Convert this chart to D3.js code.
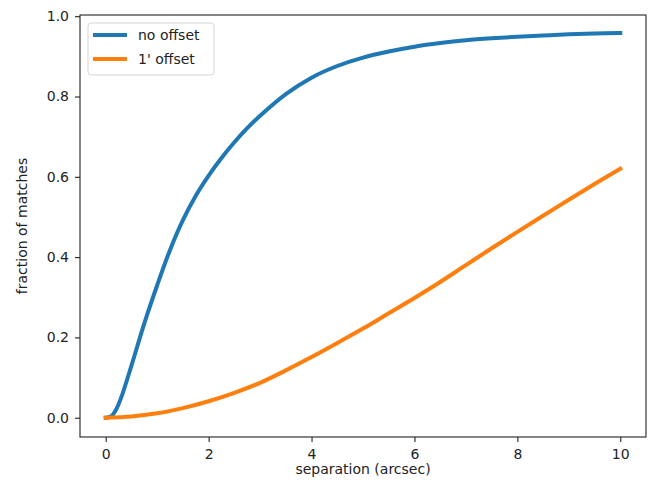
<!DOCTYPE html>
<html>
<head>
<meta charset="utf-8">
<script src="https://cdn.jsdelivr.net/npm/d3@7"></script>
<style>
  body { margin: 0; background: #fff; }
  text { font-family: "DejaVu Sans", sans-serif; fill: #222; }
</style>
</head>
<body>
<div id="chart"></div>
<script>
// separation in arcsec
var sepBlue = [0, 0.1, 0.2, 0.3, 0.5, 0.75, 1.0, 1.25, 1.5, 1.75, 2.0, 2.25, 2.5, 2.75, 3.0, 3.5, 4.0, 4.5, 5.0, 5.5, 6.0, 6.5, 7.0, 7.5, 8.0, 8.5, 9.0, 9.5, 10.0];
var noOffset = [0, 0.003, 0.02, 0.05, 0.13, 0.235, 0.33, 0.418, 0.492, 0.553, 0.603, 0.647, 0.686, 0.721, 0.752, 0.806, 0.847, 0.876, 0.897, 0.912, 0.924, 0.933, 0.940, 0.945, 0.949, 0.952, 0.955, 0.957, 0.958];

var sepOrange = [0, 0.5, 1.0, 1.5, 2.0, 2.5, 3.0, 3.5, 4.0, 4.5, 5.0, 5.5, 6.0, 6.5, 7.0, 7.5, 8.0, 8.5, 9.0, 9.5, 10.0];
var oneOffset = [0, 0.003, 0.011, 0.024, 0.041, 0.062, 0.087, 0.118, 0.151, 0.186, 0.222, 0.260, 0.298, 0.338, 0.380, 0.422, 0.463, 0.503, 0.543, 0.582, 0.620];

var seriesNames = ["no offset", "1' offset"];
var seriesColors = ["#1f77b4", "#ff7f0e"];
var xTicks = [0, 2, 4, 6, 8, 10];
var yTicks = [0.0, 0.2, 0.4, 0.6, 0.8, 1.0];

var width = 651, height = 486;
var plotLeft = 80, plotRight = 646, plotTop = 15, plotBottom = 437;

var svg = d3.select("#chart")
	.append("svg")
	.attr("width", width)
	.attr("height", height)

var x = d3.scaleLinear().domain([-0.5, 10.5]).range([plotLeft, plotRight]);
var y = d3.scaleLinear().domain([-0.048, 1.003]).range([plotBottom, plotTop]);

// axes
svg.append("g")
	.attr("transform", "translate(0," + plotBottom + ")")
	.call(d3.axisBottom(x).tickValues(xTicks).tickFormat(d3.format("d")).tickSize(5).tickPadding(7))
	.call(g => g.select(".domain").remove())
	.selectAll("text").style("font-size", "14px")

svg.append("g")
	.attr("transform", "translate(" + plotLeft + ",0)")
	.call(d3.axisLeft(y).tickValues(yTicks).tickFormat(d3.format(".1f")).tickSize(5).tickPadding(6))
	.call(g => g.select(".domain").remove())
	.selectAll("text").style("font-size", "14px")

svg.selectAll(".tick line").attr("stroke", "#222").attr("stroke-width", 1.1)

// curves
var line = d3.line().curve(d3.curveCatmullRom.alpha(0.5))
	.x(d => x(d[0]))
	.y(d => y(d[1]));

var curves = [d3.zip(sepBlue, noOffset), d3.zip(sepOrange, oneOffset)];

svg.selectAll("path.curve")
	.data(curves)
	.enter()
	.append("path")
	.attr("class", "curve")
	.attr("d", line)
	.attr("fill", "none")
	.attr("stroke", (d, i) => seriesColors[i])
	.attr("stroke-width", 4)
	.attr("stroke-linecap", "square")

// frame
svg.append("rect")
	.attr("x", plotLeft).attr("y", plotTop)
	.attr("width", plotRight - plotLeft).attr("height", plotBottom - plotTop)
	.attr("fill", "none").attr("stroke", "#222").attr("stroke-width", 1.1)

// legend
var legend = svg.append("g").attr("transform", "translate(88,23)")
legend.append("rect")
	.attr("width", 126).attr("height", 52).attr("rx", 3)
	.attr("fill", "#fff").attr("fill-opacity", 0.8)
	.attr("stroke", "#d6d6d6")

seriesNames.forEach(function(name, i) {
	var ly = 12 + i * 24;
	legend.append("line")
		.attr("x1", 5).attr("x2", 39).attr("y1", ly).attr("y2", ly)
		.attr("stroke", seriesColors[i]).attr("stroke-width", 4)
	legend.append("text")
		.attr("x", 50).attr("y", ly + 5)
		.style("font-size", "14px")
		.text(name)
});

// axis labels
svg.append("text")
	.attr("x", (plotLeft + plotRight) / 2).attr("y", 474)
	.attr("text-anchor", "middle")
	.style("font-size", "14px")
	.text("separation (arcsec)")

svg.append("text")
	.attr("transform", "translate(27," + ((plotTop + plotBottom) / 2) + ") rotate(-90)")
	.attr("text-anchor", "middle")
	.style("font-size", "14px")
	.text("fraction of matches")
</script>
</body>
</html>
